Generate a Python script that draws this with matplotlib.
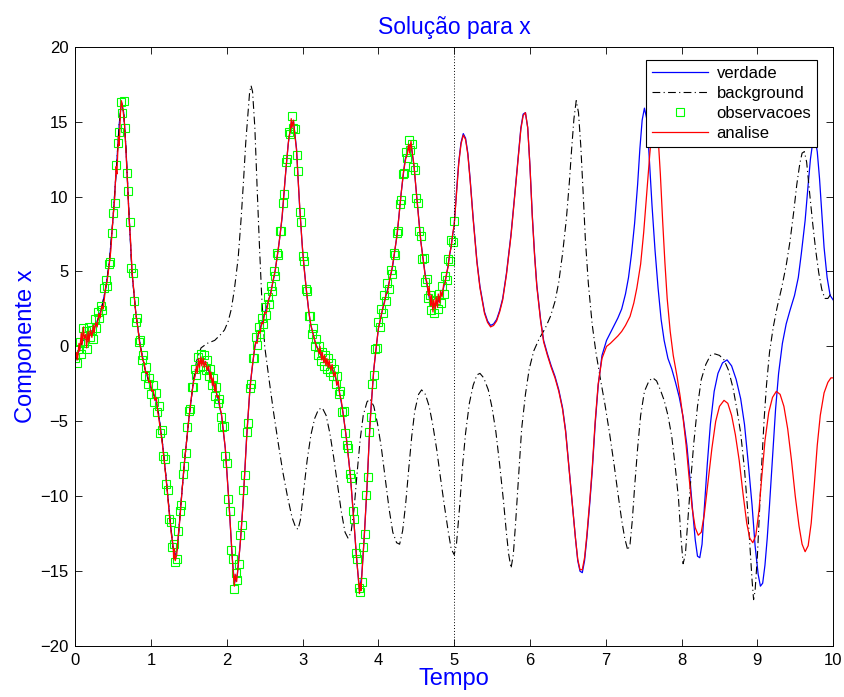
import matplotlib
matplotlib.use("Agg")
import matplotlib.pyplot as plt
import numpy as np

plt.rcParams["font.family"] = ["Liberation Sans", "DejaVu Sans"]

# verdade (truth)
true_t = [0.00, 0.05, 0.10, 0.15, 0.20, 0.25, 0.30, 0.35, 0.40, 0.45, 0.50, 0.55, 0.58, 0.61, 0.64, 0.67,
          0.71, 0.75, 0.80, 0.86, 0.92, 1.00, 1.06, 1.10, 1.15, 1.20, 1.25, 1.29, 1.32, 1.35, 1.39, 1.44,
          1.50, 1.56, 1.62, 1.68, 1.74, 1.80, 1.87, 1.93, 1.98, 2.03, 2.07, 2.10, 2.14, 2.18, 2.22, 2.26,
          2.31, 2.37, 2.44, 2.50, 2.57, 2.63, 2.68, 2.73, 2.77, 2.81, 2.85, 2.88, 2.92, 2.96, 3.00, 3.05,
          3.10, 3.17, 3.25, 3.33, 3.40, 3.47, 3.53, 3.58, 3.63, 3.67, 3.71, 3.75, 3.78, 3.81, 3.85, 3.89,
          3.94, 4.00, 4.07, 4.13, 4.19, 4.25, 4.30, 4.35, 4.40, 4.43, 4.47, 4.51, 4.56, 4.62, 4.68, 4.73,
          4.79, 4.85, 4.90, 4.95,
          5.00, 5.03, 5.06, 5.09, 5.12, 5.15, 5.18, 5.21, 5.25, 5.30, 5.34, 5.40, 5.44, 5.48, 5.52, 5.56,
          5.60, 5.64, 5.69, 5.75, 5.80, 5.85, 5.88, 5.91, 5.94, 5.97, 6.00, 6.03, 6.06, 6.09, 6.14, 6.18,
          6.23, 6.28, 6.33, 6.38, 6.43, 6.47, 6.51, 6.55, 6.60, 6.63, 6.66, 6.69, 6.72, 6.75, 6.79, 6.82,
          6.86, 6.90, 6.95, 7.01, 7.10, 7.16, 7.21, 7.26, 7.30, 7.34, 7.38, 7.42, 7.45, 7.48, 7.51, 7.54,
          7.57, 7.61, 7.65, 7.69, 7.73, 7.77, 7.82, 7.87, 7.92, 7.97, 8.02, 8.07, 8.11, 8.15, 8.18, 8.21,
          8.24, 8.27, 8.30, 8.34, 8.38, 8.43, 8.48, 8.54, 8.60, 8.66, 8.72, 8.78, 8.83, 8.88, 8.93, 8.97,
          9.01, 9.04, 9.07, 9.10, 9.13, 9.16, 9.20, 9.24, 9.28, 9.33, 9.38, 9.43, 9.49, 9.54, 9.58, 9.63,
          9.67, 9.70, 9.73, 9.76, 9.79, 9.82, 9.85, 9.88, 9.92, 9.96, 10.00]
true_x = [-1.0, -0.3, 0.4, 0.7, 0.9, 1.2, 1.8, 2.6, 3.8, 5.6, 8.6, 12.4, 14.8, 16.3, 15.6, 13.2,
          8.8, 4.9, 2.2, 0.0, -1.5, -2.8, -3.5, -4.5, -6.4, -8.8, -11.5, -13.4, -14.0, -13.4, -10.8, -7.8,
          -4.8, -2.3, -1.1, -0.9, -1.3, -2.2, -3.2, -4.6, -6.8, -10.5, -14.0, -15.8, -15.2, -13.0, -10.0, -6.2,
          -2.5, 0.0, 1.2, 2.2, 3.4, 4.8, 6.5, 8.6, 11.2, 13.5, 14.9, 15.0, 13.2, 9.4, 6.4, 3.7,
          1.6, 0.2, -0.7, -1.1, -1.6, -2.6, -4.3, -6.2, -8.6, -11.2, -14.0, -16.3, -15.3, -13.0, -9.4, -5.0,
          -1.5, 1.2, 2.8, 4.0, 5.4, 7.6, 10.2, 12.4, 13.4, 13.5, 12.0, 9.8, 7.0, 4.7, 3.0, 2.6,
          3.0, 3.7, 4.8, 6.4,
          8.1, 10.3, 12.3, 13.6, 14.2, 13.9, 12.9, 11.2, 8.6, 5.7, 4.0, 2.3, 1.7, 1.4, 1.5, 1.8,
          2.4, 3.2, 4.9, 7.5, 10.2, 13.0, 14.6, 15.5, 15.6, 14.6, 12.0, 8.8, 6.2, 4.1, 1.8, 0.4,
          -0.5, -1.3, -2.0, -2.9, -4.1, -5.6, -7.8, -10.0, -12.8, -14.3, -15.0, -15.1, -14.3, -12.8, -10.4, -8.4,
          -5.2, -2.6, -0.6, 0.4, 1.3, 1.9, 2.5, 3.5, 4.6, 6.2, 8.2, 10.8, 13.2, 15.1, 15.9, 15.2,
          12.9, 9.4, 6.4, 3.9, 1.8, 0.4, -0.8, -1.5, -2.4, -3.4, -4.7, -6.6, -8.8, -11.2, -12.9, -14.0,
          -14.1, -13.2, -10.8, -7.8, -5.2, -3.0, -1.8, -1.1, -0.9, -1.3, -2.2, -3.5, -5.2, -7.8, -10.6, -13.3,
          -15.2, -16.0, -15.8, -14.6, -12.8, -10.6, -7.4, -4.2, -1.8, 0.2, 1.5, 2.4, 3.4, 4.6, 6.2, 8.4,
          10.8, 12.5, 13.6, 13.9, 13.0, 11.2, 8.9, 6.6, 4.6, 3.4, 3.1]

# background
bg_t = [0.00, 0.05, 0.10, 0.15, 0.20, 0.25, 0.30, 0.35, 0.40, 0.45, 0.50, 0.55, 0.58, 0.61, 0.64, 0.67,
        0.71, 0.75, 0.80, 0.86, 0.92, 1.00, 1.06, 1.10, 1.15, 1.20, 1.25, 1.29, 1.32, 1.35, 1.39, 1.44,
        1.50, 1.56, 1.60, 1.66, 1.74, 1.84, 1.92, 1.97, 2.02, 2.06, 2.10, 2.15, 2.19, 2.22, 2.25, 2.28,
        2.30, 2.32, 2.34, 2.37, 2.40, 2.43, 2.46, 2.50, 2.56, 2.62, 2.68, 2.74, 2.80, 2.86, 2.91, 2.94,
        2.97, 3.01, 3.06, 3.11, 3.16, 3.21, 3.26, 3.31, 3.36, 3.41, 3.46, 3.51, 3.56, 3.60, 3.64, 3.68,
        3.72, 3.76, 3.80, 3.85, 3.89, 3.94, 3.99, 4.04, 4.09, 4.14, 4.19, 4.24, 4.28, 4.32, 4.36, 4.40,
        4.44, 4.48, 4.53, 4.57, 4.62, 4.67, 4.72, 4.77, 4.82, 4.87, 4.92, 4.96, 5.00, 5.03, 5.07, 5.11,
        5.15, 5.20, 5.25, 5.30, 5.34, 5.39, 5.45, 5.50, 5.55, 5.60, 5.65, 5.69, 5.72, 5.75, 5.78, 5.81,
        5.85, 5.89, 5.94, 5.99, 6.05, 6.12, 6.20, 6.27, 6.33, 6.38, 6.43, 6.48, 6.52, 6.55, 6.58, 6.61,
        6.64, 6.67, 6.70, 6.73, 6.77, 6.82, 6.87, 6.93, 6.99, 7.05, 7.11, 7.16, 7.21, 7.25, 7.29, 7.32,
        7.35, 7.38, 7.42, 7.46, 7.51, 7.57, 7.62, 7.67, 7.72, 7.77, 7.82, 7.87, 7.92, 7.96, 7.99, 8.02,
        8.05, 8.08, 8.12, 8.16, 8.21, 8.26, 8.32, 8.38, 8.44, 8.50, 8.56, 8.62, 8.68, 8.73, 8.78, 8.83,
        8.87, 8.90, 8.93, 8.95, 8.97, 9.00, 9.03, 9.06, 9.09, 9.12, 9.16, 9.21, 9.26, 9.32, 9.38, 9.43,
        9.48, 9.52, 9.56, 9.59, 9.62, 9.65, 9.69, 9.73, 9.77, 9.81, 9.85, 9.89, 9.93, 9.97, 10.00]
bg_x = [-1.0, -0.3, 0.4, 0.7, 0.9, 1.2, 1.8, 2.6, 3.8, 5.6, 8.6, 12.4, 14.8, 16.3, 15.6, 13.2,
        8.8, 4.9, 2.2, 0.0, -1.5, -2.8, -3.5, -4.5, -6.4, -8.8, -11.5, -13.4, -14.0, -13.4, -10.8, -7.8,
        -4.8, -2.3, -1.0, -0.1, 0.2, 0.4, 0.8, 1.1, 1.7, 2.5, 3.8, 5.9, 8.6, 11.0, 13.6, 15.6,
        16.9, 17.4, 17.0, 14.6, 10.6, 6.8, 3.4, 0.0, -2.3, -4.5, -6.5, -8.4, -10.0, -11.4, -12.1, -12.2,
        -11.6, -9.8, -7.6, -5.9, -4.8, -4.2, -4.1, -4.6, -5.8, -7.4, -9.2, -11.0, -12.4, -12.8, -12.4, -10.8,
        -8.4, -6.2, -4.6, -3.7, -3.5, -4.0, -5.2, -6.8, -8.8, -10.8, -12.4, -13.1, -13.2, -12.3, -10.5, -8.2,
        -6.0, -4.3, -3.2, -2.9, -3.2, -4.0, -5.3, -6.9, -8.8, -10.6, -12.3, -13.5, -13.9, -13.2, -10.8, -8.0,
        -5.8, -3.8, -2.6, -1.9, -1.8, -2.1, -2.9, -4.1, -5.7, -7.9, -10.3, -12.5, -13.9, -14.8, -13.9, -11.8,
        -8.6, -5.5, -3.2, -1.5, -0.3, 0.5, 1.2, 2.0, 3.0, 4.3, 6.2, 8.5, 11.0, 13.2, 15.2, 16.4,
        15.6, 13.4, 10.4, 7.2, 4.2, 1.5, -0.4, -2.2, -3.9, -5.8, -7.9, -9.8, -11.6, -12.8, -13.6, -13.2,
        -11.6, -9.4, -6.8, -4.6, -3.0, -2.3, -2.1, -2.3, -2.9, -3.6, -4.6, -6.0, -8.2, -10.2, -12.6, -14.5,
        -13.9, -11.8, -9.0, -6.5, -4.0, -2.2, -1.2, -0.6, -0.5, -0.6, -0.9, -1.6, -2.8, -4.2, -5.8, -8.2,
        -10.8, -13.2, -15.6, -16.9, -16.3, -14.0, -10.8, -7.6, -4.8, -2.6, -0.4, 1.3, 2.6, 3.9, 5.4, 7.0,
        9.0, 10.8, 12.2, 12.9, 13.0, 12.3, 10.2, 8.2, 6.4, 4.9, 3.8, 3.2, 3.2, 3.5, 3.5]

# observacoes, one every 0.02 time units on [0, 5]
obs_t = np.round(np.arange(0.0, 5.0001, 0.02), 2)
obs_x = [-0.8, -1.1, -0.2, 0.3, -0.5, 1.2, 0.2, 1.0, -0.2, 1.3,
         0.6, 1.1, 0.5, 1.8, 1.2, 2.3, 1.9, 2.7, 2.4, 3.9,
         4.4, 4.0, 5.5, 5.6, 7.6, 8.9, 9.6, 12.1, 13.6, 14.3,
         16.3, 15.6, 16.4, 14.6, 11.6, 10.4, 8.3, 5.2, 4.9, 3.0,
         1.6, 1.9, 0.3, 0.4, -0.9, -0.6, -2.0, -1.4, -2.5, -2.1,
         -3.2, -2.6, -3.7, -3.1, -4.4, -4.0, -5.8, -5.6, -7.3, -7.5,
         -9.2, -9.6, -11.5, -11.7, -13.4, -13.2, -14.4, -14.2, -12.3, -11.0,
         -10.6, -8.5, -8.0, -7.1, -5.4, -4.3, -4.2, -2.7, -2.7, -1.5,
         -1.9, -0.7, -1.4, -0.5, -1.3, -0.6, -1.6, -0.9, -2.0, -1.5,
         -2.6, -2.1, -3.3, -2.7, -3.8, -3.5, -4.7, -5.4, -5.3, -7.3,
         -7.8, -10.2, -11.0, -13.6, -14.2, -16.2, -15.1, -15.6, -14.5, -12.6,
         -11.9, -9.6, -8.6, -5.7, -5.1, -2.8, -2.5, -0.8, -0.8, 0.6,
         0.1, 1.3, 0.8, 1.9, 1.5, 2.6, 2.1, 3.3, 2.8, 4.0,
         3.7, 5.0, 4.7, 6.2, 6.1, 7.7, 7.7, 9.6, 10.2, 12.3,
         12.5, 14.3, 14.2, 15.4, 14.6, 14.5, 12.8, 11.7, 9.0, 8.3,
         6.0, 5.7, 3.8, 3.7, 2.0, 2.0, 0.8, 1.2, 0.0, 0.5,
         -0.6, 0.0, -1.0, -0.4, -1.3, -0.6, -1.5, -0.8, -1.7, -1.1,
         -2.0, -1.5, -2.5, -2.0, -3.2, -3.0, -4.4, -4.3, -5.8, -6.6,
         -6.8, -8.5, -8.8, -11.0, -11.5, -13.8, -14.2, -16.1, -16.4, -15.7,
         -13.4, -12.5, -9.9, -8.7, -5.7, -4.7, -2.5, -1.9, -0.2, -0.1,
         1.6, 1.3, 2.5, 2.2, 3.4, 3.0, 4.2, 3.8, 5.1, 4.8,
         6.2, 6.1, 7.6, 7.7, 9.5, 9.8, 11.5, 11.6, 13.0, 12.6,
         13.8, 13.1, 13.5, 12.0, 11.8, 9.9, 9.6, 7.7, 7.4, 5.8,
         5.9, 4.3, 4.5, 3.2, 3.4, 2.4, 3.0, 2.2, 3.1, 2.5,
         3.5, 2.9, 4.0, 3.5, 4.7, 4.4, 5.8, 5.7, 7.1, 7.0,
         8.4]

# analise
ana_t = [0.00, 0.02, 0.03, 0.05, 0.06, 0.08, 0.09, 0.11, 0.12, 0.14, 0.15, 0.17, 0.18, 0.20, 0.22, 0.24,
         0.25, 0.27, 0.29, 0.31, 0.33, 0.35, 0.37, 0.40, 0.42, 0.45, 0.47, 0.50, 0.52, 0.54, 0.55, 0.57,
         0.58, 0.60, 0.61, 0.63, 0.65, 0.67, 0.69, 0.71, 0.73, 0.75, 0.77, 0.79, 0.81, 0.83, 0.85, 0.87,
         0.89, 0.91, 0.93, 0.95, 0.97, 0.99, 1.01, 1.03, 1.05, 1.07, 1.09, 1.12, 1.15, 1.18, 1.21, 1.24,
         1.27, 1.29, 1.30, 1.31, 1.32, 1.34, 1.36, 1.38, 1.41, 1.44, 1.47, 1.50, 1.53, 1.56, 1.58, 1.60,
         1.61, 1.63, 1.64, 1.66, 1.67, 1.69, 1.70, 1.72, 1.74, 1.76, 1.78, 1.79, 1.81, 1.82, 1.84, 1.85,
         1.87, 1.89, 1.91, 1.93, 1.96, 1.98, 2.00, 2.03, 2.06, 2.08, 2.10, 2.11, 2.13, 2.15, 2.17, 2.19,
         2.21, 2.24, 2.27, 2.30, 2.33, 2.36, 2.38, 2.40, 2.42, 2.44, 2.46, 2.48, 2.50, 2.52, 2.55, 2.58,
         2.61, 2.64, 2.67, 2.70, 2.73, 2.76, 2.79, 2.82, 2.84, 2.85, 2.86, 2.88, 2.90, 2.92, 2.94, 2.96,
         2.99, 3.02, 3.05, 3.08, 3.11, 3.14, 3.17, 3.20, 3.22, 3.23, 3.25, 3.26, 3.28, 3.29, 3.31, 3.32,
         3.34, 3.35, 3.37, 3.39, 3.41, 3.43, 3.45, 3.47, 3.49, 3.51, 3.54, 3.57, 3.60, 3.63, 3.66, 3.69,
         3.72, 3.74, 3.75, 3.76, 3.77, 3.79, 3.82, 3.85, 3.88, 3.91, 3.94, 3.97, 4.00, 4.03, 4.06, 4.08,
         4.10, 4.12, 4.15, 4.18, 4.21, 4.24, 4.27, 4.30, 4.33, 4.36, 4.38, 4.40, 4.41, 4.43, 4.45, 4.47,
         4.50, 4.53, 4.56, 4.59, 4.62, 4.64, 4.66, 4.67, 4.69, 4.70, 4.72, 4.73, 4.75, 4.76, 4.78, 4.79,
         4.81, 4.82, 4.84, 4.86, 4.88, 4.90, 4.92, 4.94, 4.96, 4.98,
         5.00, 5.03, 5.06, 5.09, 5.12, 5.15, 5.18, 5.21, 5.25, 5.30, 5.34, 5.40, 5.44, 5.48, 5.52, 5.56,
         5.60, 5.64, 5.69, 5.75, 5.80, 5.85, 5.88, 5.91, 5.94, 5.97, 6.00, 6.03, 6.06, 6.09, 6.14, 6.18,
         6.23, 6.28, 6.33, 6.38, 6.43, 6.47, 6.51, 6.55, 6.60, 6.63, 6.66, 6.69, 6.72, 6.75, 6.79, 6.82,
         6.86, 6.90, 6.95, 7.01, 7.06, 7.10, 7.16, 7.21, 7.26, 7.32, 7.37, 7.41, 7.46, 7.50, 7.54, 7.58,
         7.61, 7.635, 7.66, 7.69, 7.72, 7.75, 7.78, 7.81, 7.85, 7.89, 7.94, 7.98, 8.02, 8.06, 8.10, 8.14,
         8.18, 8.22, 8.26, 8.30, 8.35, 8.40, 8.45, 8.50, 8.56, 8.61, 8.66, 8.71, 8.76, 8.81, 8.86, 8.90,
         8.94, 8.98, 9.02, 9.06, 9.10, 9.15, 9.20, 9.25, 9.30, 9.35, 9.40, 9.45, 9.50, 9.55, 9.59, 9.63,
         9.67, 9.71, 9.75, 9.79, 9.83, 9.88, 9.93, 9.97, 10.00]
ana_x = [-1.0, -0.4, -0.9, 0.2, -0.3, 0.9, 0.1, 1.3, 0.5, 0.8, -0.1, 1.0, 0.3, 1.1, 0.6, 1.4,
         0.9, 1.6, 1.3, 2.2, 1.9, 2.7, 2.5, 3.9, 4.3, 5.5, 6.4, 8.7, 9.8, 12.0, 11.5, 14.0,
         13.4, 15.9, 16.4, 15.8, 14.9, 13.0, 10.9, 8.6, 7.1, 5.0, 3.9, 2.7, 1.8, 1.1, 0.2, -0.3,
         -0.9, -1.1, -1.8, -1.7, -2.4, -2.3, -3.0, -2.9, -3.6, -3.4, -4.4, -5.4, -6.5, -7.9, -9.4, -11.1,
         -12.6, -13.2, -14.2, -13.5, -14.3, -13.9, -12.6, -11.6, -9.6, -7.8, -6.3, -4.8, -3.5, -2.4, -2.0, -1.3,
         -1.8, -0.8, -1.4, -0.7, -1.3, -0.8, -1.4, -1.0, -1.6, -1.3, -2.2, -1.7, -2.6, -2.1, -3.0, -2.5,
         -3.4, -3.3, -4.1, -4.5, -5.9, -6.8, -8.3, -10.6, -13.1, -14.7, -16.0, -15.2, -15.7, -14.6, -13.6, -12.3,
         -10.8, -8.1, -5.4, -3.2, -1.6, -0.4, 0.3, 0.2, 1.0, 0.9, 1.6, 1.5, 2.3, 2.2, 3.1, 3.5,
         4.4, 5.1, 6.2, 7.3, 8.7, 10.6, 12.4, 14.0, 14.4, 15.2, 14.6, 15.1, 14.0, 13.1, 11.2, 9.5,
         7.1, 5.2, 3.8, 2.4, 1.4, 0.8, 0.2, -0.2, -0.5, 0.0, -0.9, -0.4, -1.1, -0.6, -1.3, -0.8,
         -1.4, -0.9, -1.6, -1.2, -2.0, -1.7, -2.6, -2.3, -3.2, -3.6, -4.7, -5.8, -7.2, -8.6, -10.6, -12.6,
         -14.6, -15.7, -16.5, -15.8, -16.3, -14.6, -12.1, -9.3, -6.1, -3.6, -1.5, -0.1, 1.2, 1.9, 2.6, 2.9,
         3.5, 3.6, 4.5, 5.2, 6.2, 7.2, 8.6, 10.2, 11.6, 12.5, 12.8, 13.5, 12.9, 13.7, 12.8, 12.1,
         10.3, 8.6, 7.0, 5.8, 4.6, 4.3, 3.4, 4.0, 2.7, 3.4, 2.3, 3.1, 2.5, 3.3, 2.6, 3.5,
         2.9, 3.7, 3.3, 4.1, 4.2, 4.9, 5.3, 6.2, 6.6, 7.5,
         8.1, 10.2, 12.2, 13.5, 14.1, 13.8, 12.8, 11.1, 8.5, 5.6, 3.9, 2.2, 1.6, 1.3, 1.4, 1.7,
         2.3, 3.1, 4.8, 7.4, 10.1, 12.9, 14.5, 15.4, 15.6, 14.6, 12.0, 8.7, 6.1, 4.0, 1.7, 0.3,
         -0.6, -1.4, -2.1, -3.0, -4.2, -5.7, -7.9, -10.1, -12.8, -14.2, -14.9, -14.9, -14.1, -12.6, -10.2, -8.2,
         -5.0, -2.5, -0.8, 0.0, 0.2, 0.4, 0.7, 1.0, 1.4, 2.0, 2.9, 3.9, 5.5, 7.6, 10.2, 12.8,
         14.5, 15.3, 15.3, 14.0, 11.5, 8.4, 5.6, 3.2, 1.0, -0.6, -2.0, -3.3, -4.8, -6.6, -8.8, -10.8,
         -12.1, -12.6, -12.4, -11.2, -9.0, -6.8, -5.0, -4.0, -3.6, -3.8, -4.6, -5.9, -7.6, -9.8, -11.8, -12.8,
         -13.1, -12.6, -11.0, -8.6, -6.3, -4.4, -3.4, -3.0, -3.2, -4.0, -5.5, -7.6, -10.0, -12.0, -13.2, -13.7,
         -13.3, -11.8, -9.3, -6.6, -4.6, -3.1, -2.4, -2.1, -2.1]

assim_end = 5.0

fig = plt.figure(figsize=(8.45, 6.97), dpi=100)
ax = fig.add_axes([0.089, 0.073, 0.897, 0.860])

ax.plot(true_t, true_x, color=(0, 0, 1), lw=0.9, label="verdade")
ax.plot(bg_t, bg_x, color="black", lw=0.8, linestyle=(0, (7, 3, 1, 3)), label="background")
ax.plot(obs_t, obs_x, linestyle="none", marker="s", markersize=6, markerfacecolor="none",
        markeredgecolor=(0, 1, 0), markeredgewidth=0.8, label="observacoes")
ax.plot(ana_t, ana_x, color=(1, 0, 0), lw=0.9, label="analise")
ax.axvline(assim_end, color="black", lw=0.7, linestyle=(0, (1, 2)))

ax.set_xlim(0, 10)
ax.set_ylim(-20, 20)
ax.set_xticks(range(0, 11))
ax.set_yticks(range(-20, 21, 5))
ax.tick_params(direction="in", top=True, right=True, length=5, width=0.6, labelsize=12, pad=5)
for s in ax.spines.values():
    s.set_linewidth(0.7)

ax.set_title("Solução para x", color=(0, 0, 1), fontsize=16.5, pad=9)
ax.set_xlabel("Tempo", color=(0, 0, 1), fontsize=17, labelpad=0)
ax.set_ylabel("Componente x", color=(0, 0, 1), fontsize=17, labelpad=2)

leg = ax.legend(loc="upper right", bbox_to_anchor=(0.979, 0.977), fontsize=12, frameon=True,
                fancybox=False, framealpha=1, edgecolor="black", borderaxespad=0,
                labelspacing=0.3, handlelength=3.4, handletextpad=0.5, borderpad=0.35)
leg.get_frame().set_linewidth(0.8)

fig.savefig("out.png", dpi=100)
